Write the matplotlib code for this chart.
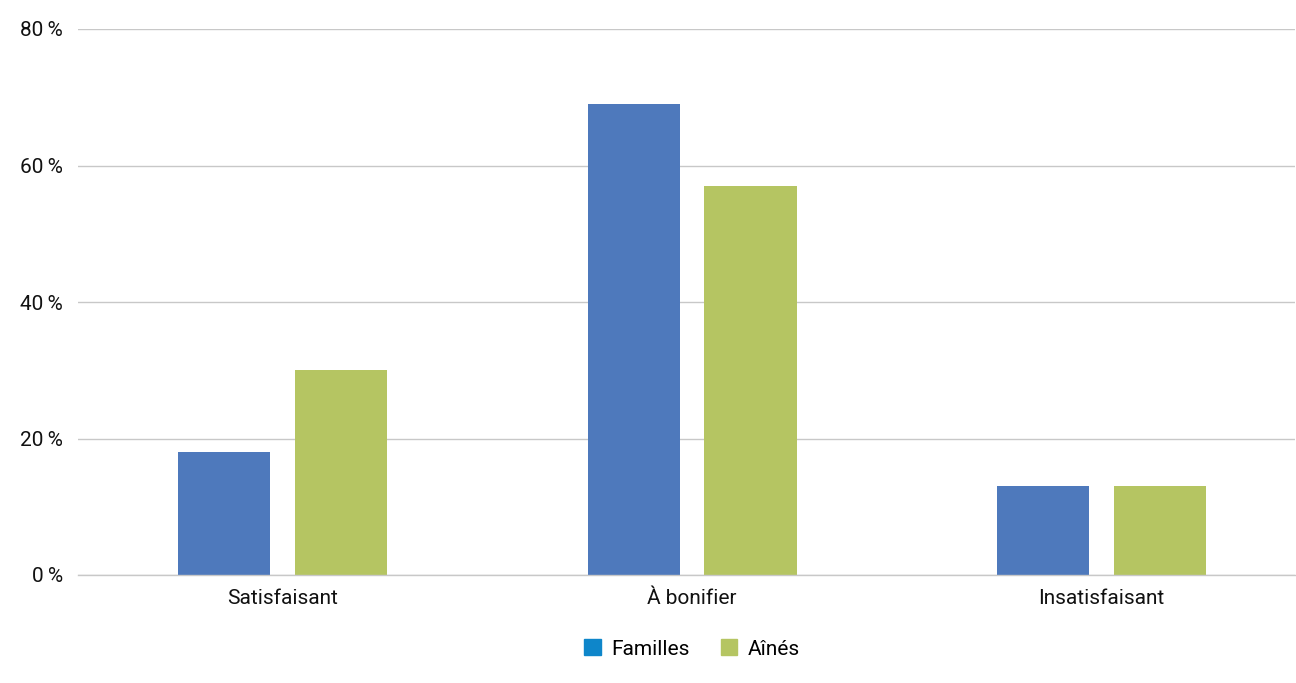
import numpy as np
import matplotlib
matplotlib.use('Agg')
from matplotlib import pyplot as plt
from matplotlib.patches import Patch

plt.rcParams['font.family'] = ['Roboto', 'DejaVu Sans']

categories = ['Satisfaisant', 'À bonifier', 'Insatisfaisant']
familles = [18, 69, 13]
aines = [30, 57, 13]
yticks = [0, 20, 40, 60, 80]
ytick_labels = ['0\u2009%', '20\u2009%', '40\u2009%', '60\u2009%', '80\u2009%']

blue = '#4E79BC'
green = '#B5C562'
legend_blue = '#0E86CA'

fig = plt.figure(figsize=(12.96, 6.83), dpi=100)
ax = fig.add_axes([78/1296, 1 - 575/683, 1217/1296, 546/683])

x = np.arange(len(categories))
w = 0.225
ax.bar(x - 0.143, familles, w, color=blue)
ax.bar(x + 0.143, aines, w, color=green)

ax.set_xlim(-0.501, 2.474)
ax.set_ylim(0, 80)
ax.set_yticks(yticks)
ax.set_yticklabels(ytick_labels)
ax.set_xticks(x)
ax.set_xticklabels(categories)
ax.tick_params(axis='both', length=0, labelsize=15, colors='#111111')
ax.tick_params(axis='y', pad=11)
ax.tick_params(axis='x', pad=10)
ax.grid(axis='y', color='#c8c8c8', linewidth=1)
ax.set_axisbelow(True)
for s in ['top', 'right', 'left']:
    ax.spines[s].set_visible(False)
ax.spines['bottom'].set_color('#c8c8c8')
ax.spines['bottom'].set_linewidth(1)

handles = [Patch(color=legend_blue, label='Familles'), Patch(color=green, label='Aînés')]
fig.legend(handles=handles, loc='center', bbox_to_anchor=(692/1296, 1 - 649/683), ncol=2,
           frameon=False, fontsize=15, handlelength=0.8, handleheight=0.8, columnspacing=1.5,
           handletextpad=0.5)

plt.savefig('out.png', dpi=100)
